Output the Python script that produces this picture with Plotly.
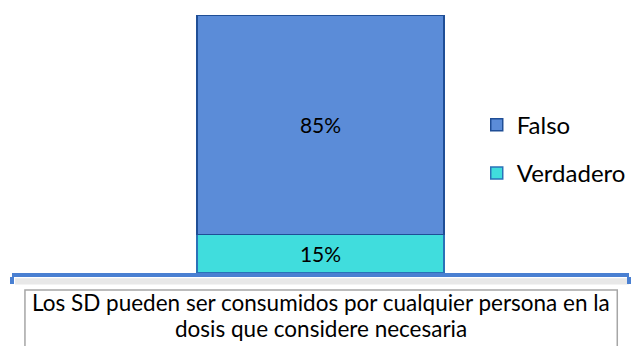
import plotly.graph_objects as go

# Survey statement and answer shares (percent)
category = ["Los SD pueden ser consumidos por cualquier persona en la<br>dosis que considere necesaria"]
series_names = ["Verdadero", "Falso"]
verdadero = [15]
falso = [85]
fill_colors = ["#40DDDD", "#5B8CD8"]
edge_colors = ["#2A72B8", "#1F4E96"]
legend_ranks = [2, 1]

font_family = "Lato, 'Open Sans', sans-serif"

fig = go.Figure()
for name, vals, fc, ec, rank in zip(series_names, [verdadero, falso], fill_colors, edge_colors, legend_ranks):
    fig.add_trace(go.Bar(
        x=category, y=vals, name=name,
        marker=dict(color=fc, line=dict(color=ec, width=1.5)),
        width=0.4,
        text=[f"{v}%" for v in vals],
        textposition="inside", insidetextanchor="middle",
        textfont=dict(family=font_family, size=21, color="black"),
        legendgroup=name, legendrank=rank,
    ))

fig.update_layout(
    barmode="stack",
    width=634, height=346,
    margin=dict(l=12, r=4, t=15, b=73),
    paper_bgcolor="white", plot_bgcolor="white",
    font=dict(family=font_family, size=21, color="black"),
    legend=dict(
        x=0.752, y=0.66, xanchor="left", yanchor="top",
        traceorder="grouped", tracegroupgap=14,
        font=dict(family=font_family, size=24, color="black"),
        bgcolor="rgba(0,0,0,0)", itemwidth=30,
    ),
    showlegend=True,
)
fig.update_xaxes(
    range=[-0.5, 0.5], showgrid=False, zeroline=False,
    showline=True, linecolor="#4A80D2", linewidth=4,
    ticks="outside", tickson="boundaries", ticklen=7, tickwidth=4, tickcolor="#4A80D2",
    showticklabels=False,
)
fig.update_yaxes(range=[0, 100], visible=False)

# Soft shadow under the axis line
fig.add_shape(type="rect", xref="paper", yref="paper",
              x0=0.005, x1=1.0, y0=-0.045, y1=-0.02,
              fillcolor="#D9D9D9", opacity=0.6, line=dict(width=0), layer="below")

# Bordered box holding the category label
fig.add_shape(type="rect", xref="paper", yref="paper",
              x0=0.021, x1=0.981, y0=-0.066, y1=-0.32,
              fillcolor="white", line=dict(color="#A6A6A6", width=1.5))

for i, line in enumerate(category[0].split("<br>")):
    fig.add_annotation(
        text=line, xref="paper", yref="paper", x=0.5, y=-0.116 - i * 0.101,
        xanchor="center", yanchor="middle", showarrow=False,
        font=dict(family=font_family, size=22.5, color="black"),
    )

fig.write_html("out.html")
